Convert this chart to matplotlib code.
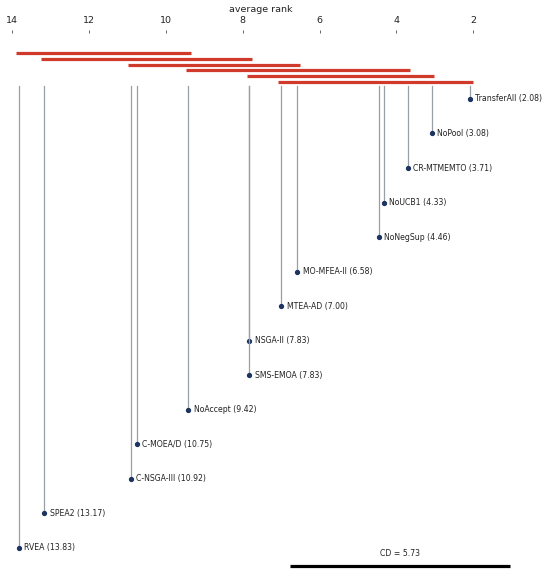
import numpy as np
import matplotlib
matplotlib.use("Agg")
import matplotlib.pyplot as plt

# methods, ordered best to worst (top to bottom)
names = ["TransferAll", "NoPool", "CR-MTMEMTO", "NoUCB1", "NoNegSup", "MO-MFEA-II",
         "MTEA-AD", "NSGA-II", "SMS-EMOA", "NoAccept", "C-MOEA/D", "C-NSGA-III",
         "SPEA2", "RVEA"]
ranks = [2.08, 3.08, 3.71, 4.33, 4.46, 6.58, 7.00, 7.83, 7.83, 9.42, 10.75, 10.92,
         13.17, 13.83]

# groups not significantly different (worst rank, best rank)
clique_lo = [13.83, 13.17, 10.92, 9.42, 7.83, 7.00]
clique_hi = [9.42, 7.83, 6.58, 3.71, 3.08, 2.08]

cd = 5.73
tick_vals = [14, 12, 10, 8, 6, 4, 2]

fig = plt.figure(figsize=(5.5, 5.7), dpi=100)
ax = fig.add_axes([0, 0, 1, 1 - 33 / 570])
ax.set_xlim(14.32, 0.0)
ax.set_ylim(13.64, -1.91)

for s in ax.spines.values():
    s.set_visible(False)
ax.set_yticks([])
ax.xaxis.tick_top()
ax.set_xticks(tick_vals)
ax.set_xticklabels([str(t) for t in tick_vals])
ax.tick_params(axis="x", length=2.5, width=0.7, color="#666666", labelsize=6.8,
               pad=3.5, labelcolor="#222222")
fig.text(261 / 550, 1 - 9 / 570, "average rank", fontsize=6.8, ha="center",
         va="center", color="#222222")

# red clique bars
ext = 0.07
for i, (lo, hi) in enumerate(zip(clique_lo, clique_hi)):
    yb = -1.33 + i * 0.168
    ax.plot([lo + ext, hi - ext], [yb, yb], color="#cf3a2b", lw=2.3,
            solid_capstyle="butt")

# method lines, dots and labels
for k, (n, r) in enumerate(zip(names, ranks)):
    ax.plot([r, r], [-0.38, k], color="#9a9fa6", lw=0.9)
    ax.plot(r, k, "o", color="#1d3461", ms=2.8)
    ax.text(r - 0.14, k, "%s (%.2f)" % (n, r), fontsize=5.6, va="center",
            ha="left", color="#222222")

# critical difference
cd_start = 6.76
ax.plot([cd_start, cd_start - cd], [13.52, 13.52], color="black", lw=2.3,
        solid_capstyle="butt")
ax.text(cd_start - cd / 2, 13.17, "CD = %.2f" % cd, fontsize=5.6, ha="center",
        va="center", color="#222222")

fig.savefig("out.png", dpi=100)
